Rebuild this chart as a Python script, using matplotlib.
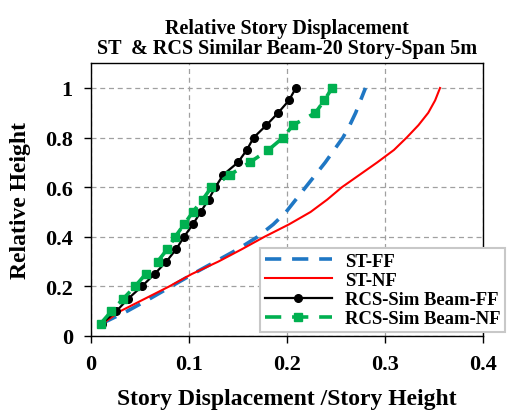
import matplotlib
matplotlib.use("Agg")
from matplotlib import pyplot as plt
import numpy as np

# relative height of each story (20 stories)
height = np.arange(1, 21) / 20.0

st_ff = [0.011, 0.037, 0.060, 0.082, 0.104, 0.127, 0.150, 0.170, 0.186, 0.199,
         0.209, 0.219, 0.229, 0.239, 0.248, 0.257, 0.264, 0.270, 0.275, 0.280]
st_nf = [0.012, 0.030, 0.055, 0.080, 0.103, 0.130, 0.154, 0.177, 0.202, 0.224,
         0.241, 0.256, 0.274, 0.292, 0.309, 0.322, 0.334, 0.344, 0.351, 0.356]
rcs_ff = [0.011, 0.026, 0.038, 0.052, 0.065, 0.077, 0.087, 0.095, 0.104, 0.112,
          0.120, 0.127, 0.135, 0.150, 0.159, 0.166, 0.179, 0.191, 0.202, 0.209]
rcs_nf = [0.010, 0.021, 0.033, 0.045, 0.056, 0.068, 0.078, 0.086, 0.095, 0.104,
          0.114, 0.123, 0.142, 0.162, 0.181, 0.196, 0.206, 0.229, 0.238, 0.246]

plt.rcParams['font.family'] = ['Liberation Serif', 'DejaVu Serif']
plt.rcParams['font.weight'] = 'bold'

fig = plt.figure(figsize=(5.19, 4.14), dpi=100)
ax = fig.add_axes([0.175, 0.186, 0.756, 0.659])

ax.plot(st_ff, height, color='#1f77c4', lw=2.6, ls=(0, (4.5, 3)), label='ST-FF')
ax.plot(st_nf, height, color='#ff0000', lw=1.5, label='ST-NF')
ax.plot(rcs_ff, height, color='black', lw=1.6, marker='o', ms=5.5,
        label='RCS-Sim Beam-FF')
ax.plot(rcs_nf, height, color='#00b050', lw=2.6, ls=(0, (4.5, 3)), marker='s',
        ms=6, label='RCS-Sim Beam-NF')

ax.set_xlim(0, 0.4)
ax.set_ylim(0, 1.1)
ax.set_xticks([0, 0.1, 0.2, 0.3, 0.4])
ax.set_xticklabels(['0', '0.1', '0.2', '0.3', '0.4'])
ax.set_yticks([0, 0.2, 0.4, 0.6, 0.8, 1.0])
ax.set_yticklabels(['0', '0.2', '0.4', '0.6', '0.8', '1'])
ax.tick_params(labelsize=16, length=5, width=1, pad=8)
ax.grid(True, ls=(0, (4, 3)), color='#a0a0a0', lw=0.9)
for s in ax.spines.values():
    s.set_linewidth(1.0)

ax.set_title('Relative Story Displacement\nST  & RCS Similar Beam-20 Story-Span 5m',
             fontsize=14.5, fontweight='bold', pad=7, linespacing=1.05)
ax.set_xlabel('Story Displacement /Story Height', fontsize=17,
              fontweight='bold', labelpad=10)
ax.set_ylabel('Relative Height', fontsize=17, fontweight='bold', labelpad=10)

leg = ax.legend(loc='lower left', bbox_to_anchor=(260 / 519, 1 - 333 / 414),
                bbox_transform=fig.transFigure, fontsize=13.4, handlelength=3.6,
                fancybox=False, framealpha=1, edgecolor='#c8c8c8',
                borderpad=0.25, labelspacing=0.12, handletextpad=0.7,
                borderaxespad=0)
leg.get_frame().set_linewidth(1.5)

fig.savefig('out.png', dpi=100)
